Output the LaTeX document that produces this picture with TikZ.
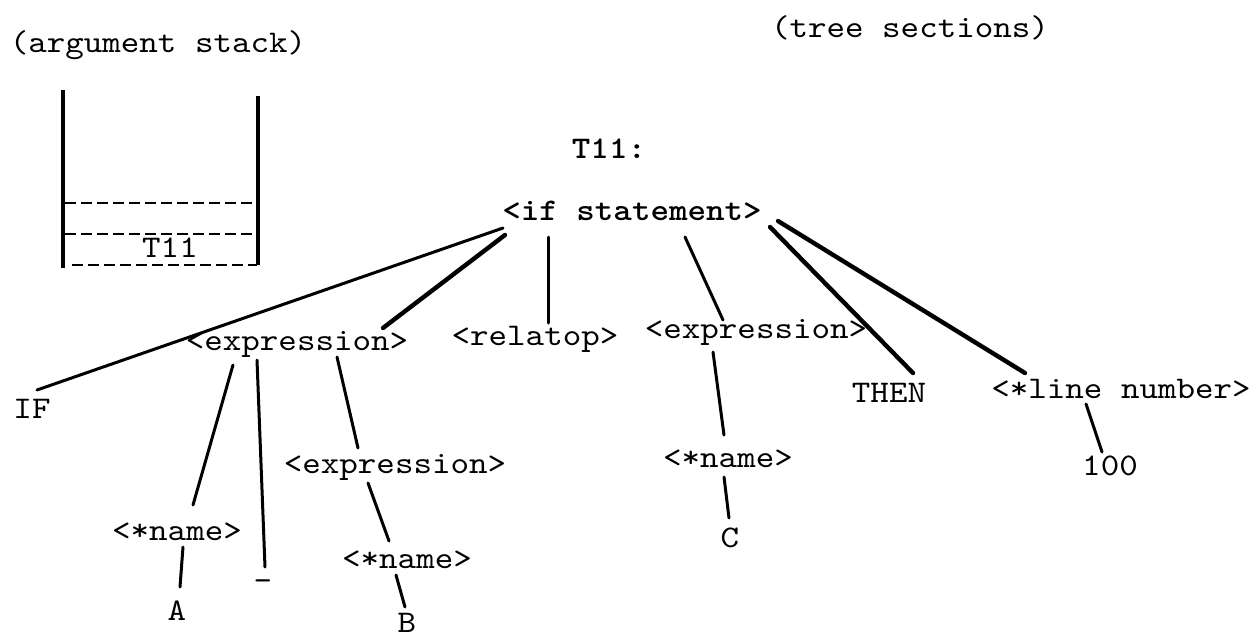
\documentclass[tikz,border=0pt]{standalone}
\usepackage{fontspec}
\newfontfamily\tw[FakeStretch=1.12]{lmmono10-regular.otf}
\newfontfamily\twb[FakeStretch=1.12]{lmmonolt10-bold.otf}
\begin{document}
\begin{tikzpicture}[x=1pt,y=-1pt,
  lbl/.style={anchor=base,inner sep=0pt,text height=18pt,text depth=0pt,font=\fontsize{31.5}{36}\tw},
  hd/.style={lbl,font=\fontsize{31.5}{36}\twb},
  edge/.style={line width=3pt,line cap=round},
  thickedge/.style={line width=4.4pt,line cap=round},
  wall/.style={line width=3.2pt},
  slot/.style={line width=2pt,dash pattern=on 11pt off 5pt}]
\useasboundingbox (0,0) rectangle (1259,638);
% titles
\node[lbl] (argstack) at (158,52) {(argument stack)};
\node[lbl] (treesec) at (910,37) {(tree sections)};
% argument stack
\draw[wall] (63,90) -- (63,268);
\draw[wall] (258,96) -- (258,265);
\draw[slot] (65,203) -- (256,203);
\draw[slot] (65,234) -- (256,234);
\draw[slot] (72,265) -- (257,265);
\node[lbl] (stackT) at (170,257) {T11};
% tree
\node[hd] (tname) at (609,158) {T11:};
\node[hd] (ifs) at (632,220) {<if statement>};
\node[lbl] (IF) at (32,418) {IF};
\node[lbl] (e1) at (297,350) {<expression>};
\node[lbl] (rel) at (535,345) {<relatop>};
\node[lbl] (e2) at (756,338) {<expression>};
\node[lbl] (then) at (889,402) {THEN};
\node[lbl] (ln) at (1121,398) {<*line number>};
\node[lbl] (hundred) at (1110,475) {100};
\node[lbl] (e3) at (395,473) {<expression>};
\node[lbl] (n1) at (177,540) {<*name>};
\node[lbl] (A) at (177,620) {A};
\node[lbl] (minus) at (263,590) {-};
\node[lbl] (n2) at (407,568) {<*name>};
\node[lbl] (B) at (407,632) {B};
\node[lbl] (n3) at (728,467) {<*name>};
\node[lbl] (C) at (730,547) {C};
% connectors
\draw[edge] ([shift={(-129,8)}]ifs.base) -- ([shift={(5,-28)}]IF.base);
\draw[thickedge] ([shift={(-127,15)}]ifs.base) -- ([shift={(86,-22)}]e1.base);
\draw[edge] ([shift={(-84,17)}]ifs.base) -- ([shift={(13,-22)}]rel.base);
\draw[edge] ([shift={(53,17)}]ifs.base) -- ([shift={(-33,-18)}]e2.base);
\draw[thickedge] ([shift={(138,7)}]ifs.base) -- ([shift={(24,-29)}]then.base);
\draw[thickedge] ([shift={(146,1)}]ifs.base) -- ([shift={(-96,-25)}]ln.base);
\draw[edge] ([shift={(-64,15)}]e1.base) -- ([shift={(16,-35)}]n1.base);
\draw[edge] ([shift={(-40,10)}]e1.base) -- ([shift={(2,-23)}]minus.base);
\draw[edge] ([shift={(40,7)}]e1.base) -- ([shift={(-37,-25)}]e3.base);
\draw[edge] ([shift={(-27,10)}]e3.base) -- ([shift={(-18,-27)}]n2.base);
\draw[edge] ([shift={(-11,7)}]n2.base) -- ([shift={(-2,-25)}]B.base);
\draw[edge] ([shift={(6,7)}]n1.base) -- ([shift={(3,-33)}]A.base);
\draw[edge] ([shift={(-43,14)}]e2.base) -- ([shift={(-4,-32)}]n3.base);
\draw[edge] ([shift={(-4,10)}]n3.base) -- ([shift={(-1,-29)}]C.base);
\draw[edge] ([shift={(-35,6)}]ln.base) -- ([shift={(-8,-23)}]hundred.base);
\end{tikzpicture}
\end{document}
